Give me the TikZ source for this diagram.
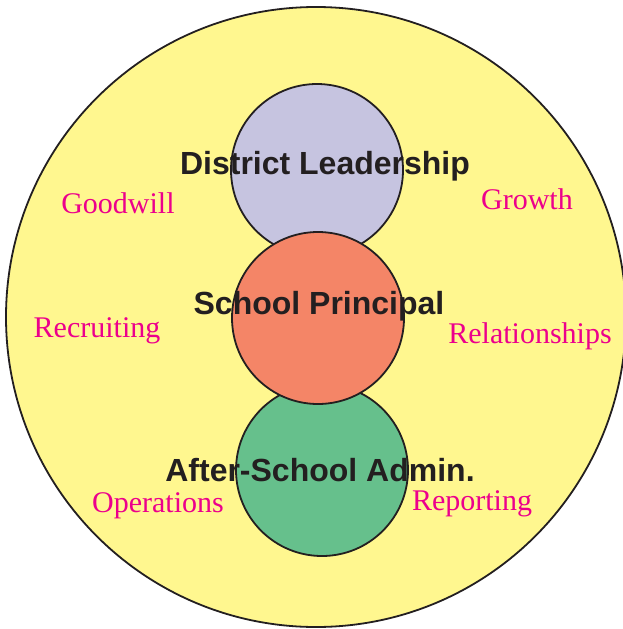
\documentclass[tikz,border=0pt]{standalone}
\usepackage{fontspec}
\setmainfont{Liberation Serif}
\setsansfont{Liberation Sans}
\usepackage{xcolor}
\usetikzlibrary{positioning}
\definecolor{ringyellow}{RGB}{255,247,143}
\definecolor{districtpurple}{RGB}{198,196,224}
\definecolor{principalorange}{RGB}{244,133,103}
\definecolor{adminngreen}{RGB}{102,192,140}
\definecolor{labelpink}{RGB}{236,0,140}
\definecolor{inkdark}{RGB}{35,31,32}
\tikzstyle{ring} = [circle, draw=inkdark, line width=1.8pt, fill=ringyellow, minimum size=620pt, inner sep=0pt]
\tikzstyle{role} = [circle, draw=inkdark, line width=1.8pt, inner sep=0pt, minimum size=172pt]
\tikzstyle{roletext} = [font=\sffamily\bfseries\fontsize{32}{36}\selectfont, text=inkdark, inner sep=0pt]
\tikzstyle{duty} = [font=\fontsize{30}{34}\selectfont, text=labelpink, inner sep=0pt]

\begin{document}
\begin{tikzpicture}[x=1pt, y=-1pt]
\useasboundingbox (0,0) rectangle (623,629);

% Outer ring
\node[ring] (outer) at (316,317) {};

% Role circles (orange sits on top)
\node[role, fill=districtpurple] (district) at (317,170) {};
\node[role, fill=adminngreen] (admin) at (322,470) {};
\node[role, fill=principalorange] (principal) at (318,318) {};

% Role names
\node[roletext] (districtname) at (325,166) {District Leadership};
\node[roletext] (principalname) at (319,306) {School Principal};
\node[roletext] (adminname) at (320,470) {After-School Admin.};

% Duties
\node[duty] (goodwill) at (118,203) {Goodwill};
\node[duty] (growth) at (527,199) {Growth};
\node[duty] (recruiting) at (97,331) {Recruiting};
\node[duty] (relationships) at (530,336) {Relationships};
\node[duty] (operations) at (158,506) {Operations};
\node[duty] (reporting) at (472,504) {Reporting};

\end{tikzpicture}
\end{document}
